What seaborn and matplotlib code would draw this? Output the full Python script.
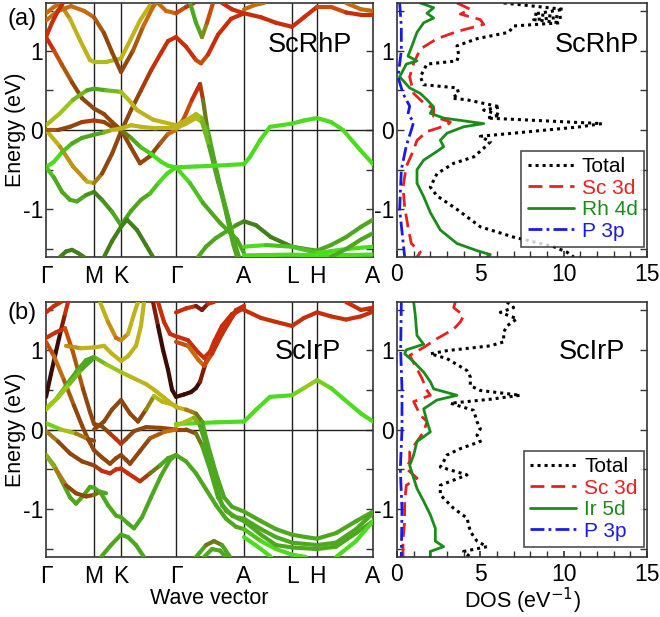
import matplotlib
matplotlib.use("Agg")
import matplotlib.pyplot as plt
import seaborn as sns
import pandas as pd
from matplotlib.collections import LineCollection
from matplotlib.ticker import MultipleLocator

# ---------------- k-path ----------------
kpoint_labels = ["Γ", "M", "K", "Γ", "A", "L", "H", "A"]
kpoint_pos = [0, 48, 75, 130, 198, 246, 271, 327]

# ---------------- DOS data: ScRhP ----------------
rhp_total_E = [1.6, 1.52, 1.46, 1.42, 1.39, 1.35, 1.31, 1.23, 1.15, 1.06, 0.95, 0.87, 0.83, 0.67, 0.57,
               0.53, 0.46, 0.4, 0.38, 0.29, 0.25, 0.19, 0.15, 0.08, 0.04, -0.02, -0.08, -0.15, -0.23,
               -0.34, -0.42, -0.55, -0.72, -0.83, -1.0, -1.22, -1.35, -1.47, -1.54, -1.6]
rhp_total = [6.4, 10, 8.2, 9.9, 8.2, 9.8, 7, 6.7, 4.8, 3.6, 3.7, 3.6, 1.8, 1.4, 1.6, 3.6, 3.7, 3.3, 4.2,
             6.2, 5.2, 6.2, 5.4, 12.3, 11, 8, 5, 5.6, 5.2, 4.6, 3.4, 2.4, 2.0, 2.4, 3.6, 5, 7, 9.4, 10.2, 10.6]
rhp_sc_E = [1.6, 1.52, 1.46, 1.39, 1.33, 1.24, 1.15, 1.02, 0.84, 0.67, 0.46, 0.34, 0.27, 0.17, 0.1, 0.06,
            -0.02, -0.13, -0.25, -0.46, -0.72, -0.97, -1.22, -1.43, -1.54, -1.6]
rhp_sc = [3.6, 4.4, 3.8, 5.0, 5.2, 3.6, 2.4, 1.4, 1.0, 0.76, 1.0, 1.6, 2.2, 2.2, 3.2, 3.0, 1.8, 1.2, 1.0,
          0.56, 0.36, 0.46, 0.66, 0.86, 1.4, 1.2]
rhp_tm_E = [1.6, 1.54, 1.47, 1.41, 1.35, 1.23, 1.06, 0.93, 0.87, 0.83, 0.67, 0.53, 0.46, 0.38, 0.29, 0.21,
            0.15, 0.08, 0.04, -0.04, -0.13, -0.21, -0.27, -0.38, -0.5, -0.67, -0.84, -1.04, -1.26, -1.43,
            -1.52, -1.57, -1.6]
rhp_tm = [1.4, 2.2, 1.8, 2.2, 1.6, 1.2, 0.9, 0.66, 1.2, 0.56, 0.16, 0.76, 1.4, 1.8, 2.2, 2.0, 2.8, 5.2,
          4.0, 3.0, 2.6, 2.8, 2.4, 1.6, 1.2, 1.2, 1.6, 2.0, 2.6, 3.6, 4.8, 5.6, 5.4]
rhp_p_E = [1.6, 1.3, 1.0, 0.67, 0.46, 0.3, 0.2, 0.1, 0.0, -0.2, -0.5, -1.0, -1.4, -1.6]
rhp_p = [0.16, 0.26, 0.26, 0.06, 0.36, 0.76, 0.66, 1.0, 0.86, 0.56, 0.26, 0.16, 0.36, 0.46]

# ---------------- DOS data: ScIrP ----------------
irp_total_E = [1.6, 1.53, 1.47, 1.39, 1.3, 1.22, 1.1, 1.05, 0.99, 0.95, 0.89, 0.74, 0.66, 0.55, 0.49, 0.43,
               0.38, 0.33, 0.24, 0.1, 0.01, -0.07, -0.15, -0.24, -0.32, -0.4, -0.47, -0.57, -0.7, -0.82,
               -0.99, -1.11, -1.28, -1.4, -1.47, -1.53, -1.6]
irp_total = [6.6, 7.0, 6.2, 7.2, 6.6, 6.4, 6.4, 5.6, 3.0, 2.0, 3.0, 4.2, 4.4, 4.4, 5.0, 7.4, 5.6, 3.2, 4.6,
             4.8, 5.0, 4.8, 5.0, 3.8, 3.0, 2.8, 2.6, 4.2, 2.6, 2.6, 3.4, 4.2, 4.4, 4.8, 5.4, 4.0, 4.4]
irp_sc_E = [1.6, 1.53, 1.43, 1.35, 1.26, 1.14, 1.03, 0.93, 0.76, 0.64, 0.49, 0.43, 0.35, 0.18, 0.1, -0.03,
            -0.15, -0.28, -0.4, -0.49, -0.61, -0.7, -0.9, -1.15, -1.4, -1.6]
irp_sc = [3.5, 3.4, 4.0, 3.8, 3.4, 2.4, 1.6, 0.76, 1.2, 1.5, 1.8, 2.0, 1.0, 1.4, 1.8, 1.6, 1.2, 0.76, 0.76,
          0.56, 1.2, 0.56, 0.46, 0.46, 0.36, 0.36]
irp_tm_E = [1.6, 1.43, 1.18, 1.07, 1.0, 0.95, 0.85, 0.72, 0.6, 0.51, 0.43, 0.37, 0.26, 0.1, -0.03, -0.15,
            -0.32, -0.45, -0.61, -0.74, -0.9, -1.07, -1.24, -1.4, -1.47, -1.53, -1.6]
irp_tm = [1.0, 1.1, 1.2, 1.6, 0.56, 0.46, 1.0, 1.6, 2.0, 2.2, 3.6, 2.4, 1.6, 1.8, 2.0, 1.2, 1.0, 0.76, 1.0,
          1.2, 1.6, 2.0, 2.3, 2.3, 2.8, 2.0, 2.0]
irp_p_E = [1.6, 1.0, 0.5, 0.0, -0.5, -1.0, -1.6]
irp_p = [0.26, 0.22, 0.3, 0.3, 0.2, 0.3, 0.26]

# ---------------- band data: (k, E, character-colour key) ----------------
rhp_bands = [
    [(0, 1.17, 'r'), (8, 1.0, 'r'), (16, 0.82, 'o'), (26, 0.6, 'b'), (36, 0.4, 'b'), (48, 0.27, 'b'),
     (58, 0.2, 'b'), (66, 0.1, 'b'), (75, 0.0, 'b'), (84, -0.2, 'b'), (94, -0.42, 'b'), (104, -0.33, 'b'),
     (114, -0.17, 'b'), (122, -0.05, 'o'), (130, 0.0, 'o'), (138, 0.15, 'o'), (146, 0.38, 'r'),
     (154, 0.58, 'r'), (157, 0.38, 'b'), (161, 0.04, 'g'), (174, -0.71, 'g'), (187, -1.43, 'g'),
     (191, -1.6, 'g')],
    [(0, 0.0, 'y'), (14, -0.21, 'y'), (27, -0.46, 'o'), (41, -0.65, 'y'), (48, -0.67, 'y'),
     (56, -0.55, 'b'), (66, -0.3, 'b'), (75, -0.02, 'b'), (85, 0.25, 'b'), (95, 0.5, 'b'), (105, 0.75, 'r'),
     (115, 0.97, 'r'), (122, 1.12, 'r'), (130, 1.17, 'r'), (140, 1.05, 'r'), (150, 0.88, 'r'),
     (155, 0.84, 'o'), (162, 0.95, 'r'), (172, 1.2, 'r'), (185, 1.4, 'r'), (198, 1.47, 'r')],
    [(0, 0.06, 'y'), (14, 0.21, 'yg'), (27, 0.38, 'yg'), (41, 0.5, 'g'), (48, 0.52, 'g'), (60, 0.5, 'g'),
     (75, 0.48, 'yg'), (84, 0.36, 'y'), (91, 0.25, 'y'), (107, 0.13, 'y'), (130, 0.06, 'y'),
     (140, 0.12, 'y'), (150, 0.2, 'y'), (156, 0.15, 'yg'), (162, -0.1, 'g'), (170, -0.5, 'g'),
     (180, -1.0, 'g'), (188, -1.4, 'g'), (193, -1.6, 'g')],
    [(0, 0.0, 'o'), (12, 0.0, 'b'), (24, 0.04, 'b'), (36, 0.1, 'b'), (48, 0.12, 'r'), (58, 0.1, 'b'),
     (66, 0.04, 'b'), (75, 0.0, 'b'), (85, -0.1, 'g'), (95, -0.22, 'g'), (105, -0.3, 'G'),
     (115, -0.4, 'G'), (122, -0.45, 'G'), (130, -0.47, 'G')],
    [(0, -0.47, 'G'), (8, -0.4, 'G'), (16, -0.28, 'G'), (26, -0.17, 'g'), (36, -0.1, 'g'), (48, -0.06, 'g'),
     (58, -0.03, 'g'), (66, 0.0, 'y'), (75, 0.02, 'y'), (85, 0.06, 'y'), (95, 0.04, 'y'), (110, 0.02, 'y'),
     (130, 0.02, 'y'), (140, 0.08, 'y'), (150, 0.15, 'y'), (156, 0.1, 'yg'), (163, -0.2, 'g'),
     (172, -0.65, 'g'), (182, -1.1, 'g'), (192, -1.6, 'g')],
    [(0, -0.47, 'G'), (8, -0.6, 'g'), (16, -0.78, 'g'), (24, -0.88, 'g'), (31, -0.9, 'g'), (40, -0.82, 'g'),
     (48, -0.78, 'dg'), (56, -0.88, 'dg'), (66, -1.03, 'g'), (75, -1.2, 'g'), (85, -1.02, 'g'),
     (95, -0.88, 'g'), (104, -0.8, 'g'), (113, -0.66, 'G'), (121, -0.55, 'G'), (130, -0.47, 'G'),
     (144, -0.67, 'G'), (157, -0.92, 'g'), (174, -1.17, 'g'), (191, -1.38, 'g'), (198, -1.55, 'g')],
    [(58, -1.6, 'dg'), (66, -1.4, 'dg'), (75, -1.22, 'dg'), (81, -1.13, 'dg'), (91, -1.26, 'dg'),
     (100, -1.45, 'dg'), (107, -1.6, 'dg')],
    [(14, -1.6, 'dg'), (20, -1.53, 'dg'), (26, -1.51, 'dg'), (32, -1.55, 'dg'), (38, -1.6, 'dg')],
    [(152, -1.6, 'g'), (160, -1.47, 'g'), (170, -1.36, 'g'), (180, -1.28, 'g'), (190, -1.2, 'g'),
     (198, -1.15, 'dg'), (210, -1.2, 'dg'), (225, -1.35, 'dg'), (246, -1.47, 'dg'), (260, -1.5, 'g'),
     (271, -1.52, 'g'), (285, -1.45, 'g'), (300, -1.35, 'g'), (315, -1.22, 'g'), (327, -1.13, 'g')],
    [(198, -1.47, 'G'), (220, -1.45, 'G'), (246, -1.47, 'g'), (271, -1.55, 'G'), (300, -1.5, 'G'),
     (327, -1.47, 'G')],
    [(198, -1.58, 'G'), (246, -1.57, 'G'), (271, -1.58, 'G'), (327, -1.57, 'G')],
    [(285, -1.6, 'g'), (300, -1.5, 'g'), (315, -1.38, 'g'), (327, -1.3, 'g')],
    [(130, -0.47, 'G'), (150, -0.46, 'G'), (170, -0.45, 'G'), (198, -0.43, 'G'), (204, -0.34, 'G'),
     (214, -0.13, 'G'), (224, 0.04, 'G'), (246, 0.08, 'G'), (258, 0.12, 'G'), (271, 0.15, 'G'),
     (285, 0.1, 'G'), (297, 0.0, 'G'), (314, -0.25, 'G'), (327, -0.43, 'G')],
    [(14, 1.59, 'o'), (24, 1.4, 'y'), (34, 1.13, 'y'), (44, 0.88, 'y'), (48, 0.86, 'y'), (61, 0.86, 'yg'),
     (75, 0.9, 'y'), (85, 1.15, 'y'), (94, 1.38, 'y'), (104, 1.57, 'y')],
    [(0, 1.38, 'o'), (12, 1.5, 'o'), (25, 1.56, 'o'), (38, 1.5, 'o'), (48, 1.42, 'o'), (58, 1.22, 'b'),
     (66, 0.98, 'b'), (75, 0.73, 'b'), (87, 1.0, 'b'), (97, 1.3, 'o'), (107, 1.55, 'o'), (110, 1.6, 'o')],
    [(0, 1.47, 'o'), (8, 1.55, 'o'), (15, 1.6, 'o')],
    [(0, 1.17, 'r'), (6, 1.35, 'r'), (12, 1.5, 'r'), (17, 1.6, 'r')],
    [(112, 1.6, 'o'), (120, 1.5, 'o'), (130, 1.47, 'o'), (140, 1.55, 'r'), (148, 1.6, 'r')],
    [(144, 1.6, 'g'), (150, 1.35, 'g'), (156, 1.17, 'g'), (161, 1.35, 'o'), (167, 1.6, 'r')],
    [(176, 1.6, 'r'), (186, 1.52, 'r'), (198, 1.47, 'r'), (215, 1.42, 'r'), (230, 1.35, 'r'),
     (246, 1.3, 'r'), (258, 1.42, 'r'), (271, 1.55, 'r'), (285, 1.55, 'o'), (300, 1.48, 'r'),
     (315, 1.45, 'r'), (327, 1.45, 'r')],
    [(198, 1.52, 'o'), (210, 1.58, 'o'), (218, 1.6, 'o')],
    [(300, 1.6, 'o'), (315, 1.52, 'o'), (327, 1.5, 'o')],
]

irp_bands = [
    [(0, 0.41, 'k'), (5, 0.7, 'k'), (10, 0.98, 'k'), (15, 1.25, 'k'), (19, 1.45, 'r'), (22, 1.6, 'r')],
    [(0, 1.15, 'r'), (10, 1.22, 'r'), (19, 1.27, 'r'), (27, 0.97, 'o'), (37, 0.51, 'b'), (44, 0.22, 'b'),
     (48, 0.07, 'b'), (56, 0.04, 'b'), (64, -0.05, 'b'), (70, -0.12, 'r'), (75, -0.18, 'r'),
     (80, -0.12, 'b'), (88, -0.02, 'b'), (100, 0.03, 'b'), (115, 0.02, 'b'), (130, 0.0, 'b'),
     (140, 0.0, 'b'), (150, -0.05, 'b'), (156, -0.2, 'g'), (164, -0.5, 'g'), (172, -0.85, 'g'),
     (180, -1.02, 'g'), (190, -1.1, 'g'), (198, -1.12, 'g'), (215, -1.25, 'g'), (230, -1.35, 'g'),
     (246, -1.42, 'g'), (271, -1.45, 'g'), (290, -1.42, 'g'), (310, -1.25, 'g'), (327, -1.05, 'g')],
    [(0, 1.47, 'r'), (8, 1.55, 'r'), (15, 1.6, 'r')],
    [(0, 1.1, 'r'), (8, 0.92, 'o'), (18, 0.62, 'o'), (28, 0.3, 'b'), (36, 0.05, 'b'), (42, -0.12, 'b'),
     (48, -0.26, 'b'), (56, -0.35, 'b'), (64, -0.43, 'b'), (70, -0.36, 'b'), (75, -0.32, 'b'),
     (80, -0.38, 'b'), (84, -0.43, 'b'), (94, -0.27, 'b'), (104, -0.11, 'b'), (118, -0.03, 'o'),
     (130, 0.0, 'o')],
    [(0, -0.02, 'y'), (12, -0.15, 'b'), (24, -0.3, 'b'), (36, -0.4, 'b'), (48, -0.45, 'b'), (56, -0.52, 'r'),
     (64, -0.55, 'r'), (70, -0.5, 'r'), (75, -0.49, 'r'), (82, -0.55, 'r'), (94, -0.65, 'r'),
     (104, -0.55, 'b'), (114, -0.45, 'g'), (122, -0.36, 'g'), (130, -0.32, 'g')],
    [(0, -0.32, 'g'), (8, -0.45, 'g'), (16, -0.65, 'g'), (24, -0.85, 'g'), (30, -0.93, 'g'),
     (38, -0.82, 'g'), (44, -0.72, 'g'), (48, -0.73, 'g'), (55, -0.8, 'g'), (62, -0.95, 'g'),
     (70, -1.08, 'g'), (75, -1.1, 'g'), (82, -1.18, 'g'), (88, -1.24, 'g'), (96, -1.1, 'g'),
     (105, -0.85, 'g'), (115, -0.58, 'g'), (124, -0.38, 'g'), (130, -0.32, 'g'), (140, -0.4, 'g'),
     (150, -0.55, 'g'), (160, -0.75, 'g'), (170, -0.95, 'g'), (180, -1.12, 'g'), (190, -1.22, 'g'),
     (198, -1.25, 'g'), (215, -1.4, 'G'), (230, -1.5, 'G'), (246, -1.57, 'G'), (260, -1.6, 'G')],
    [(0, -0.32, 'g'), (10, -0.5, 'y'), (20, -0.7, 'b'), (30, -0.8, 'b'), (40, -0.84, 'b'), (48, -0.82, 'b'),
     (54, -0.78, 'g'), (60, -0.8, 'g')],
    [(55, -1.6, 'g'), (65, -1.45, 'g'), (75, -1.32, 'g'), (82, -1.35, 'g'), (90, -1.45, 'g'),
     (98, -1.6, 'g')],
    [(0, 0.25, 'yg'), (10, 0.38, 'yg'), (20, 0.55, 'g'), (30, 0.72, 'g'), (40, 0.87, 'g'), (48, 0.91, 'g'),
     (60, 0.82, 'yg'), (75, 0.72, 'yg'), (85, 0.66, 'y'), (100, 0.57, 'y'), (108, 0.5, 'y'),
     (118, 0.4, 'y'), (130, 0.28, 'y')],
    [(0, 0.27, 'yg'), (12, 0.4, 'yg'), (24, 0.58, 'yg'), (36, 0.76, 'g'), (48, 0.9, 'g')],
    [(20, 1.05, 'o'), (35, 1.02, 'y'), (48, 1.03, 'y'), (58, 1.05, 'y'), (66, 0.95, 'y'), (75, 0.86, 'y'),
     (82, 0.92, 'y'), (90, 1.05, 'y'), (95, 1.3, 'y'), (98, 1.6, 'y')],
    [(54, 1.6, 'y'), (62, 1.35, 'y'), (70, 1.15, 'o'), (75, 1.12, 'o'), (82, 1.2, 'y'), (88, 1.45, 'y'),
     (92, 1.6, 'y')],
    [(48, 0.0, 'b'), (58, 0.1, 'b'), (66, 0.25, 'b'), (75, 0.37, 'b'), (84, 0.2, 'b'), (92, 0.1, 'b'),
     (100, 0.25, 'b'), (108, 0.42, 'yg'), (116, 0.35, 'y'), (130, 0.3, 'y')],
    [(0, 0.08, 'G'), (15, 0.0, 'yg'), (30, -0.05, 'y'), (42, -0.12, 'b'), (48, -0.14, 'b')],
    [(107, 1.6, 'r'), (112, 1.3, 'k'), (117, 1.0, 'k'), (122, 0.75, 'k'), (126, 0.5, 'k'), (130, 0.41, 'k'),
     (138, 0.44, 'k'), (145, 0.47, 'k'), (150, 0.52, 'k'), (154, 0.6, 'k'), (160, 0.85, 'r'),
     (168, 1.1, 'r'), (176, 1.3, 'r'), (186, 1.45, 'r'), (198, 1.52, 'r')],
    [(112, 1.6, 'r'), (118, 1.35, 'r'), (124, 1.2, 'r'), (130, 1.17, 'r'), (142, 1.12, 'r'),
     (152, 0.97, 'r'), (158, 0.9, 'r'), (166, 1.0, 'r'), (176, 1.2, 'r'), (188, 1.45, 'r'),
     (198, 1.55, 'r')],
    [(130, 1.1, 'r'), (142, 1.05, 'o'), (152, 0.88, 'o'), (158, 0.8, 'o'), (166, 0.95, 'r'),
     (178, 1.25, 'r'), (190, 1.5, 'r'), (198, 1.55, 'r')],
    [(130, 1.47, 'r'), (140, 1.52, 'r'), (150, 1.55, 'r'), (156, 1.5, 'k'), (162, 1.58, 'r'),
     (168, 1.6, 'r')],
    [(198, 1.5, 'r'), (215, 1.4, 'r'), (230, 1.35, 'r'), (246, 1.3, 'r'), (258, 1.4, 'r'),
     (271, 1.47, 'r'), (285, 1.42, 'r'), (300, 1.38, 'r'), (315, 1.42, 'r'), (327, 1.48, 'r')],
    [(300, 1.6, 'r'), (315, 1.5, 'r'), (327, 1.53, 'r')],
    [(130, 0.07, 'G'), (150, 0.08, 'G'), (170, 0.09, 'G'), (198, 0.1, 'G'), (211, 0.26, 'G'),
     (224, 0.41, 'G'), (246, 0.43, 'G'), (258, 0.52, 'yg'), (271, 0.62, 'yg'), (285, 0.52, 'G'),
     (297, 0.39, 'G'), (315, 0.2, 'G'), (327, 0.1, 'G')],
    [(130, 0.28, 'y'), (140, 0.25, 'y'), (150, 0.2, 'b'), (156, 0.1, 'g'), (162, -0.2, 'g'),
     (170, -0.55, 'g'), (178, -0.85, 'g'), (186, -0.97, 'g'), (198, -1.03, 'g'), (215, -1.15, 'g'),
     (230, -1.25, 'g'), (246, -1.32, 'g'), (260, -1.35, 'g'), (271, -1.37, 'g'), (290, -1.3, 'g'),
     (310, -1.15, 'g'), (327, -1.03, 'g')],
    [(130, 0.05, 'yg'), (140, 0.1, 'yg'), (148, 0.15, 'y'), (154, 0.05, 'g'), (160, -0.2, 'g'),
     (168, -0.6, 'g'), (176, -0.95, 'g'), (186, -1.08, 'g'), (198, -1.15, 'g'), (215, -1.32, 'g'),
     (230, -1.45, 'g'), (246, -1.48, 'g'), (271, -1.5, 'g'), (290, -1.47, 'g'), (310, -1.3, 'g'),
     (327, -1.15, 'g')],
    [(290, -1.6, 'G'), (310, -1.4, 'G'), (327, -1.15, 'G')],
    [(150, -1.6, 'g'), (160, -1.45, 'g'), (168, -1.4, 'b'), (176, -1.45, 'g'), (184, -1.6, 'g')],
    [(158, -1.6, 'g'), (166, -1.5, 'g'), (174, -1.52, 'g'), (180, -1.6, 'g')],
    [(198, -1.35, 'G'), (215, -1.5, 'G'), (225, -1.6, 'G')],
]

band_colors = {'G': (0.30, 0.86, 0.12), 'g': (0.30, 0.66, 0.12), 'dg': (0.26, 0.50, 0.10),
               'yg': (0.60, 0.78, 0.10), 'y': (0.75, 0.70, 0.10), 'o': (0.78, 0.42, 0.06),
               'b': (0.56, 0.28, 0.05), 'r': (0.78, 0.18, 0.04), 'k': (0.22, 0.05, 0.02)}

dos_styles = {"Total": dict(color="black", ls=(0, (1, 1.3)), lw=2.2),
              "Sc 3d": dict(color=(0.92, 0.12, 0.12), ls=(0, (5, 2.5)), lw=2.0),
              "TM": dict(color=(0.10, 0.55, 0.10), ls="-", lw=2.0),
              "P 3p": dict(color=(0.10, 0.10, 0.90), ls=(0, (5, 1.5, 1, 1.5)), lw=2.0)}

sns.set_theme(style="ticks")
plt.rcParams['font.family'] = ['Liberation Sans', 'DejaVu Sans']
plt.rcParams['xtick.direction'] = 'in'
plt.rcParams['ytick.direction'] = 'in'
for key in ['text.color', 'axes.labelcolor', 'xtick.labelcolor', 'ytick.labelcolor']:
    plt.rcParams[key] = 'black'

fig = plt.figure(figsize=(6.6, 6.17), dpi=100)
ax_bt = fig.add_axes([0.0697, 0.5835, 0.4955, 0.4117])
ax_dt = fig.add_axes([0.6015, 0.5835, 0.3788, 0.4117])
ax_bb = fig.add_axes([0.0697, 0.0972, 0.4955, 0.4133])
ax_db = fig.add_axes([0.6015, 0.0972, 0.3788, 0.4133])

FS = 16.5
LFS = 15.5


def style_energy_axis(ax):
    ax.set_ylim(-1.6, 1.6)
    ax.set_yticks([-1, 0, 1])
    ax.set_yticklabels(["-1", "0", "1"])
    ax.set_yticks([-1.5, -0.5, 0.5, 1.5], minor=True)
    ax.tick_params(axis='y', which='both', left=True, right=True, length=5, width=1,
                   labelsize=FS, pad=2, color='#333333')
    for s in ax.spines.values():
        s.set_linewidth(1.2)
        s.set_color('#333333')


def draw_bands(ax, bands):
    for band in bands:
        segs, cols = [], []
        for (k0, e0, c0), (k1, e1, c1) in zip(band[:-1], band[1:]):
            segs.append([(k0, e0), (k1, e1)])
            a, b = band_colors[c0], band_colors[c1]
            cols.append(tuple((x + y) / 2 for x, y in zip(a, b)))
        lc = LineCollection(segs, colors=cols, linewidths=3.0, capstyle='round', joinstyle='round',
                            zorder=3)
        ax.add_collection(lc)
    for p in kpoint_pos[1:-1]:
        ax.axvline(p, color='#222222', lw=1.0, zorder=2)
    ax.axhline(0, color='#222222', lw=1.0, zorder=2)
    ax.set_xlim(kpoint_pos[0], kpoint_pos[-1])
    ax.set_xticks(kpoint_pos)
    ax.set_xticklabels(kpoint_labels)
    ax.tick_params(axis='x', length=0, labelsize=FS, pad=6)
    style_energy_axis(ax)
    ax.set_ylabel("Energy (eV)", fontsize=LFS)
    ax.yaxis.set_label_coords(-0.062, 0.5)


def draw_dos(ax, curves, tm_label):
    handles = []
    for name, E, vals in curves:
        st = dos_styles[name]
        label = tm_label if name == "TM" else name
        df = pd.DataFrame({"E": E, "dos": vals})
        sns.lineplot(data=df, x="dos", y="E", sort=False, estimator=None, ax=ax, color=st["color"],
                     lw=st["lw"], label=label)
        line = ax.get_lines()[-1]
        line.set_linestyle(st["ls"])
        handles.append(line)
    ax.set_xlim(0, 15)
    ax.set_xticks([0, 5, 10, 15])
    ax.xaxis.set_minor_locator(MultipleLocator(1))
    ax.tick_params(axis='x', which='both', length=4, labelsize=FS, pad=4, color='#333333')
    style_energy_axis(ax)
    ax.set_ylabel("")
    ax.set_xlabel("")
    leg = ax.legend(handles=handles, labels=[h.get_label() for h in handles], loc='lower right',
                    bbox_to_anchor=(0.988, 0.04), borderaxespad=0, fontsize=15, frameon=True,
                    fancybox=False, edgecolor='#222222', handlelength=2.2, handletextpad=0.4,
                    labelcolor='linecolor', borderpad=0.3, labelspacing=0.12)
    leg.get_frame().set_linewidth(1.2)


draw_bands(ax_bt, rhp_bands)
draw_bands(ax_bb, irp_bands)
ax_bb.set_xlabel("Wave vector", fontsize=LFS, labelpad=0)

draw_dos(ax_dt, [("Total", rhp_total_E, rhp_total), ("Sc 3d", rhp_sc_E, rhp_sc),
                 ("TM", rhp_tm_E, rhp_tm), ("P 3p", rhp_p_E, rhp_p)], "Rh 4d")
draw_dos(ax_db, [("Total", irp_total_E, irp_total), ("Sc 3d", irp_sc_E, irp_sc),
                 ("TM", irp_tm_E, irp_tm), ("P 3p", irp_p_E, irp_p)], "Ir 5d")
ax_db.set_xlabel("DOS (eV$^{-1}$)", fontsize=LFS, labelpad=0)

ax_bt.text(0.808, 0.835, "ScRhP", transform=ax_bt.transAxes, ha='center', va='center', fontsize=19.5)
ax_dt.text(0.8, 0.835, "ScRhP", transform=ax_dt.transAxes, ha='center', va='center', fontsize=19.5)
ax_bb.text(0.80, 0.805, "ScIrP", transform=ax_bb.transAxes, ha='center', va='center', fontsize=19.5)
ax_db.text(0.78, 0.805, "ScIrP", transform=ax_db.transAxes, ha='center', va='center', fontsize=19.5)

fig.text(22 / 660, 1 - 19 / 617, "(a)", ha='center', va='center', fontsize=17)
fig.text(22 / 660, 1 - 313 / 617, "(b)", ha='center', va='center', fontsize=17)

fig.savefig("out.png", dpi=100, facecolor='white')
